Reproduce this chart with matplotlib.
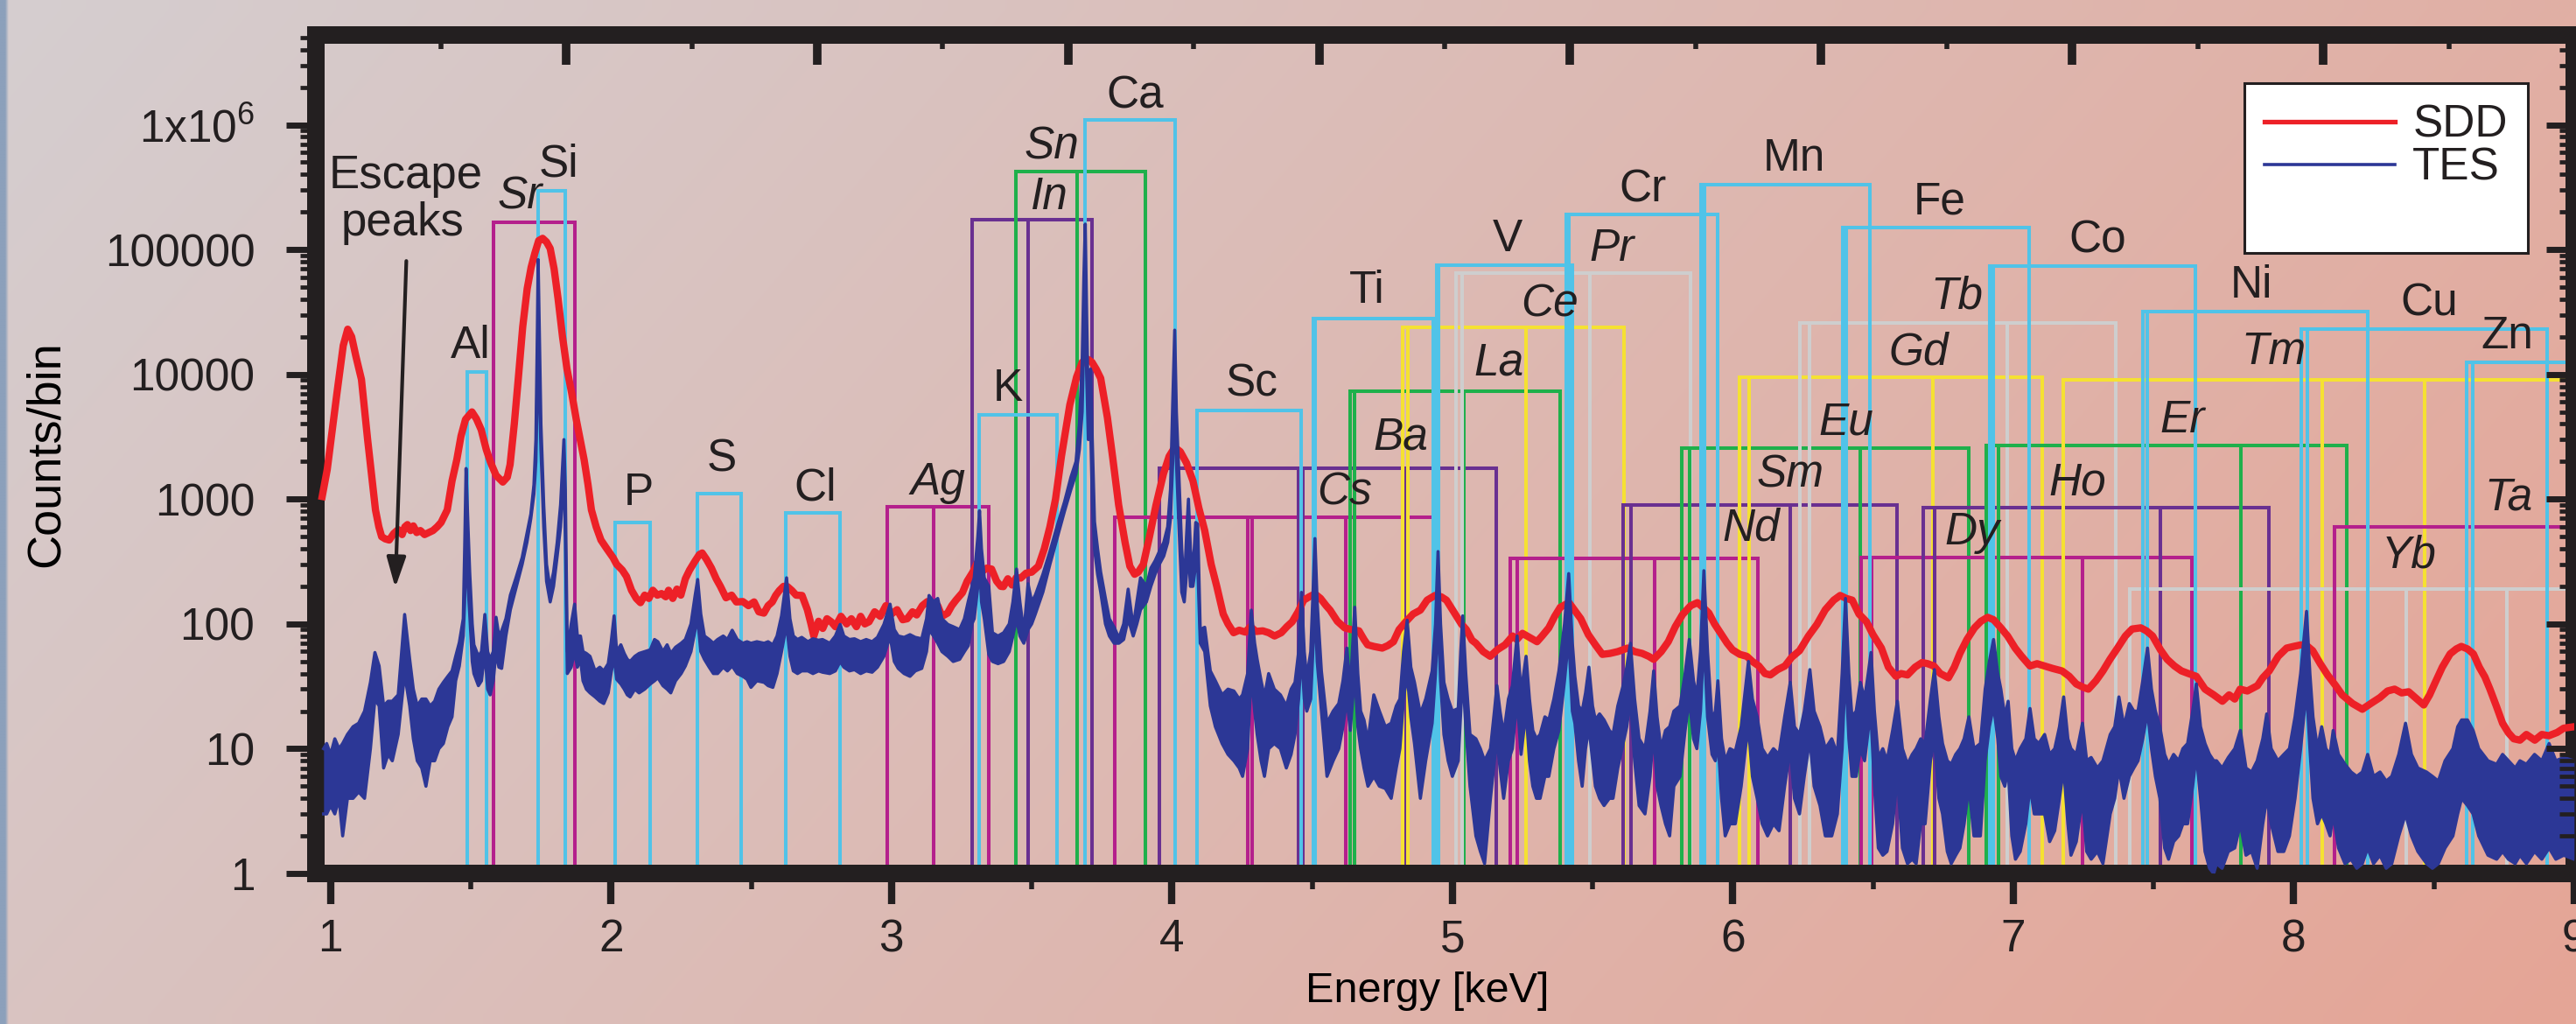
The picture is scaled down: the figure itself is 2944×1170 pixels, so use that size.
import matplotlib

matplotlib.use("Agg")

import matplotlib.pyplot as plt
import numpy as np
from matplotlib.lines import Line2D
from matplotlib.ticker import FixedFormatter, FixedLocator, LogLocator, NullFormatter

plt.rcParams["font.family"] = ["Liberation Sans", "DejaVu Sans"]
plt.rcParams["mathtext.fontset"] = "custom"
plt.rcParams["mathtext.rm"] = "Liberation Sans"
plt.rcParams["mathtext.it"] = "Liberation Sans:italic"

FRAME = "#231F20"
plt.rcParams["text.color"] = FRAME
plt.rcParams["xtick.color"] = FRAME
plt.rcParams["ytick.color"] = FRAME

# --- SDD spectrum (energy in keV, counts/bin) ---
sdd_energy = [
    0.970, 0.988, 1.022, 1.045, 1.061, 1.075, 1.090, 1.110, 1.132, 1.150,
    1.160, 1.172, 1.182, 1.195, 1.209, 1.225, 1.241, 1.255, 1.265, 1.274,
    1.285, 1.295, 1.307, 1.320, 1.335, 1.350, 1.365, 1.380, 1.394, 1.416,
    1.433, 1.450, 1.465, 1.481, 1.504, 1.520, 1.537, 1.555, 1.570, 1.590,
    1.614, 1.630, 1.640, 1.655, 1.669, 1.685, 1.701, 1.715, 1.728, 1.742,
    1.756, 1.770, 1.783, 1.797, 1.811, 1.827, 1.843, 1.860, 1.876, 1.890,
    1.904, 1.918, 1.930, 1.947, 1.964, 1.985, 2.007, 2.020, 2.040, 2.055,
    2.073, 2.090, 2.105, 2.120, 2.135, 2.149, 2.165, 2.180, 2.195, 2.205,
    2.220, 2.235, 2.249, 2.265, 2.280, 2.300, 2.315, 2.325, 2.340, 2.358,
    2.375, 2.390, 2.410, 2.430, 2.447, 2.470, 2.490, 2.510, 2.527, 2.545,
    2.560, 2.575, 2.587, 2.600, 2.615, 2.629, 2.645, 2.660, 2.681, 2.700,
    2.713, 2.723, 2.740, 2.755, 2.770, 2.785, 2.800, 2.820, 2.840, 2.857,
    2.875, 2.890, 2.905, 2.920, 2.940, 2.960, 2.980, 3.000, 3.020, 3.040,
    3.056, 3.075, 3.090, 3.110, 3.128, 3.145, 3.165, 3.180, 3.200, 3.215,
    3.230, 3.253, 3.270, 3.290, 3.305, 3.320, 3.340, 3.357, 3.375, 3.390,
    3.399, 3.415, 3.430, 3.445, 3.461, 3.480, 3.500, 3.524, 3.545, 3.565,
    3.585, 3.606, 3.636, 3.660, 3.680, 3.700, 3.715, 3.730, 3.746, 3.770,
    3.789, 3.810, 3.833, 3.850, 3.867, 3.880, 3.898, 3.920, 3.943, 3.970,
    3.990, 4.010, 4.030, 4.052, 4.075, 4.096, 4.117, 4.140, 4.160, 4.183,
    4.200, 4.220, 4.240, 4.262, 4.280, 4.300, 4.324, 4.345, 4.366, 4.390,
    4.410, 4.429, 4.450, 4.470, 4.490, 4.510, 4.530, 4.550, 4.564, 4.590,
    4.616, 4.640, 4.667, 4.685, 4.698, 4.720, 4.750, 4.770, 4.790, 4.810,
    4.834, 4.860, 4.886, 4.910, 4.938, 4.960, 4.979, 5.005, 5.032, 5.050,
    5.070, 5.084, 5.110, 5.135, 5.160, 5.188, 5.215, 5.230, 5.250, 5.275,
    5.302, 5.320, 5.344, 5.365, 5.385, 5.416, 5.440, 5.458, 5.485, 5.510,
    5.535, 5.562, 5.590, 5.625, 5.650, 5.677, 5.700, 5.718, 5.745, 5.770,
    5.795, 5.821, 5.850, 5.874, 5.895, 5.915, 5.935, 5.957, 5.980, 5.999,
    6.025, 6.050, 6.070, 6.093, 6.115, 6.134, 6.160, 6.186, 6.210, 6.238,
    6.270, 6.300, 6.330, 6.360, 6.383, 6.405, 6.426, 6.450, 6.477, 6.500,
    6.530, 6.555, 6.582, 6.600, 6.623, 6.650, 6.675, 6.695, 6.717, 6.740,
    6.769, 6.790, 6.810, 6.835, 6.862, 6.885, 6.909, 6.930, 6.956, 6.980,
    7.007, 7.030, 7.060, 7.085, 7.112, 7.140, 7.174, 7.200, 7.225, 7.250,
    7.268, 7.295, 7.320, 7.345, 7.372, 7.400, 7.424, 7.455, 7.475, 7.497,
    7.525, 7.549, 7.575, 7.600, 7.625, 7.653, 7.684, 7.715, 7.746, 7.770,
    7.790, 7.809, 7.835, 7.871, 7.890, 7.913, 7.945, 7.975, 8.000, 8.027,
    8.050, 8.068, 8.095, 8.121, 8.150, 8.173, 8.210, 8.245, 8.275, 8.308,
    8.335, 8.360, 8.385, 8.410, 8.440, 8.464, 8.485, 8.504, 8.530, 8.558,
    8.580, 8.598, 8.620, 8.641, 8.662, 8.682, 8.700, 8.723, 8.745, 8.766,
    8.785, 8.807, 8.830, 8.860, 8.885, 8.910, 8.940, 8.963, 9.000,
]
sdd_counts = [
    1050, 1730, 6900, 17000, 23000, 20000, 14000, 9100, 3000, 1300,
    820, 600, 500, 480, 470, 530, 570, 520, 600, 625,
    560, 610, 540, 560, 520, 540, 560, 600, 650, 820,
    1400, 2070, 3200, 4350, 5000, 4400, 3600, 2500, 1980, 1550,
    1370, 1500, 1890, 4000, 9100, 24000, 48600, 72000, 93000, 118000,
    123000, 115000, 102000, 70000, 40500, 20000, 11000, 7000, 4350, 3000,
    2070, 1300, 820, 600, 470, 400, 340, 300, 270, 240,
    186, 160, 148, 170, 160, 186, 170, 175, 165, 186,
    160, 190, 170, 230, 270, 320, 360, 370, 330, 280,
    230, 200, 162, 170, 150, 151, 140, 150, 125, 122,
    140, 150, 169, 185, 200, 199, 185, 170, 169, 130,
    100, 80, 105, 92, 110, 104, 95, 115, 100, 110,
    95, 115, 100, 104, 125, 115, 140, 120, 130, 108,
    110, 125, 118, 140, 151, 130, 140, 115, 122, 140,
    155, 178, 220, 260, 307, 260, 280, 275, 220, 200,
    199, 230, 205, 235, 233, 255, 260, 290, 400, 600,
    1000, 2200, 5700, 9500, 12500, 13200, 12500, 11000, 9300, 4500,
    2140, 900, 450, 290, 250, 260, 300, 500, 890, 1600,
    2200, 2600, 2400, 1950, 1400, 850, 560, 300, 200, 120,
    100, 85, 89, 86, 95, 87, 88, 85, 80, 85,
    95, 104, 125, 155, 165, 174, 160, 140, 129, 105,
    93, 90, 88, 75, 68, 66, 64, 67, 72, 90,
    104, 120, 129, 155, 169, 165, 155, 125, 100, 90,
    74, 70, 60, 55, 62, 68, 80, 75, 84, 78,
    72, 80, 93, 115, 136, 148, 125, 110, 82, 68,
    57, 58, 60, 64, 60, 58, 55, 52, 60, 72,
    95, 119, 140, 148, 135, 122, 100, 84, 70, 62,
    57, 55, 50, 46, 40, 39, 43, 46, 54, 61,
    80, 99, 130, 155, 169, 160, 155, 120, 104, 82,
    64, 45, 38, 40, 39, 45, 49, 48, 46, 40,
    37, 45, 58, 75, 93, 105, 113, 108, 93, 80,
    64, 55, 46, 48, 46, 44, 42, 38, 33, 31,
    30, 35, 42, 52, 64, 80, 91, 93, 88, 80,
    62, 52, 46, 42, 40, 38, 30, 27, 24, 27,
    25, 30, 29, 32, 37, 42, 55, 64, 66, 68,
    66, 61, 48, 39, 32, 27, 23, 20.7, 23, 25.7,
    29, 30, 28, 28.6, 25, 22.4, 27, 33.6, 45, 57.5,
    63, 66, 63, 57.5, 45, 37.6, 30, 21.9, 16, 13.4,
    12, 11.7, 13, 11.7, 13, 12.7, 13.5, 14.6, 15,
]

# --- TES spectrum: energy, upper and lower edge of the noisy trace ---
tes_energy = [
    0.975, 0.986, 1.000, 1.015, 1.030, 1.043, 1.060, 1.080, 1.100, 1.121,
    1.142, 1.158, 1.173, 1.189, 1.205, 1.220, 1.241, 1.264, 1.282, 1.295,
    1.309, 1.325, 1.340, 1.355, 1.371, 1.386, 1.402, 1.418, 1.433, 1.446,
    1.459, 1.473, 1.478, 1.483, 1.490, 1.496, 1.505, 1.511, 1.527, 1.538,
    1.550, 1.560, 1.569, 1.580, 1.590, 1.600, 1.610, 1.625, 1.641, 1.660,
    1.683, 1.700, 1.714, 1.725, 1.732, 1.737, 1.740, 1.744, 1.750, 1.760,
    1.770, 1.783, 1.795, 1.808, 1.820, 1.828, 1.832, 1.837, 1.844, 1.858,
    1.870, 1.880, 1.891, 1.900, 1.912, 1.925, 1.943, 1.960, 1.974, 1.990,
    2.000, 2.011, 2.020, 2.035, 2.047, 2.058, 2.068, 2.085, 2.100, 2.120,
    2.140, 2.155, 2.167, 2.185, 2.200, 2.213, 2.230, 2.250, 2.265, 2.285,
    2.300, 2.309, 2.320, 2.333, 2.350, 2.365, 2.380, 2.400, 2.415, 2.432,
    2.450, 2.470, 2.485, 2.499, 2.520, 2.546, 2.560, 2.577, 2.592, 2.608,
    2.626, 2.638, 2.650, 2.665, 2.680, 2.702, 2.720, 2.740, 2.754, 2.780,
    2.800, 2.817, 2.830, 2.850, 2.868, 2.890, 2.910, 2.931, 2.950, 2.973,
    2.995, 3.010, 3.024, 3.045, 3.066, 3.085, 3.108, 3.125, 3.134, 3.150,
    3.165, 3.180, 3.201, 3.220, 3.243, 3.260, 3.274, 3.287, 3.295, 3.308,
    3.314, 3.321, 3.331, 3.347, 3.360, 3.380, 3.400, 3.420, 3.433, 3.446,
    3.458, 3.472, 3.487, 3.500, 3.513, 3.540, 3.565, 3.590, 3.617, 3.640,
    3.658, 3.670, 3.680, 3.686, 3.691, 3.696, 3.702, 3.710, 3.716, 3.724,
    3.735, 3.746, 3.763, 3.777, 3.794, 3.811, 3.828, 3.844, 3.862, 3.875,
    3.888, 3.909, 3.925, 3.940, 3.955, 3.971, 3.985, 3.995, 4.003, 4.010,
    4.016, 4.024, 4.035, 4.044, 4.052, 4.059, 4.066, 4.075, 4.085, 4.092,
    4.101, 4.117, 4.137, 4.155, 4.179, 4.200, 4.221, 4.240, 4.252, 4.270,
    4.283, 4.295, 4.304, 4.318, 4.330, 4.345, 4.365, 4.387, 4.408, 4.425,
    4.439, 4.452, 4.462, 4.472, 4.481, 4.495, 4.504, 4.510, 4.518, 4.533,
    4.553, 4.575, 4.595, 4.610, 4.624, 4.636, 4.652, 4.663, 4.673, 4.685,
    4.699, 4.720, 4.740, 4.761, 4.782, 4.800, 4.813, 4.826, 4.839, 4.852,
    4.865, 4.886, 4.905, 4.928, 4.940, 4.949, 4.958, 4.970, 4.985, 5.000,
    5.021, 5.030, 5.037, 5.048, 5.063, 5.084, 5.100, 5.115, 5.136, 5.150,
    5.159, 5.170, 5.183, 5.200, 5.214, 5.231, 5.245, 5.263, 5.275, 5.287,
    5.300, 5.313, 5.330, 5.344, 5.362, 5.380, 5.400, 5.415, 5.428, 5.437,
    5.450, 5.463, 5.475, 5.487, 5.500, 5.510, 5.525, 5.541, 5.560, 5.573,
    5.590, 5.609, 5.622, 5.635, 5.650, 5.666, 5.687, 5.705, 5.718, 5.730,
    5.744, 5.760, 5.775, 5.790, 5.812, 5.830, 5.845, 5.860, 5.872, 5.885,
    5.897, 5.910, 5.926, 5.938, 5.947, 5.960, 5.973, 5.990, 6.009, 6.030,
    6.045, 6.056, 6.070, 6.087, 6.105, 6.124, 6.145, 6.165, 6.185, 6.205,
    6.220, 6.238, 6.255, 6.275, 6.290, 6.311, 6.330, 6.353, 6.373, 6.390,
    6.402, 6.414, 6.425, 6.440, 6.455, 6.470, 6.483, 6.493, 6.505, 6.519,
    6.535, 6.550, 6.570, 6.587, 6.605, 6.623, 6.640, 6.654, 6.670, 6.686,
    6.705, 6.719, 6.735, 6.748, 6.765, 6.779, 6.795, 6.810, 6.825, 6.842,
    6.860, 6.883, 6.900, 6.915, 6.930, 6.945, 6.956, 6.970, 6.982, 6.995,
    7.008, 7.025, 7.045, 7.060, 7.075, 7.091, 7.112, 7.130, 7.148, 7.165,
    7.180, 7.195, 7.206, 7.225, 7.247, 7.262, 7.278, 7.300, 7.320, 7.346,
    7.362, 7.377, 7.395, 7.414, 7.430, 7.445, 7.462, 7.479, 7.493, 7.507,
    7.523, 7.540, 7.554, 7.572, 7.590, 7.605, 7.622, 7.640, 7.653, 7.668,
    7.684, 7.700, 7.715, 7.725, 7.745, 7.767, 7.790, 7.810, 7.830, 7.850,
    7.870, 7.890, 7.904, 7.920, 7.944, 7.965, 7.985, 8.005, 8.025, 8.046,
    8.058, 8.069, 8.085, 8.100, 8.115, 8.130, 8.141, 8.160, 8.183, 8.205,
    8.225, 8.245, 8.264, 8.285, 8.308, 8.330, 8.350, 8.375, 8.399, 8.420,
    8.443, 8.474, 8.495, 8.516, 8.540, 8.568, 8.585, 8.599, 8.620, 8.640,
    8.660, 8.693, 8.724, 8.745, 8.766, 8.790, 8.807, 8.830, 8.859, 8.885,
    8.911, 8.935, 8.963, 9.000,
]
tes_high = [
    10, 11, 9, 12, 10, 11, 13, 15, 16, 20,
    34, 59, 46, 22, 24, 24, 27, 119, 52, 30,
    22, 25, 25, 22, 24, 30, 34, 38, 42, 55,
    71, 110, 400, 1760, 600, 260, 100, 68, 55, 60,
    119, 60, 52, 60, 113, 80, 88, 110, 170, 230,
    340, 530, 760, 1300, 3000, 20000, 83000, 25000, 4000, 900,
    300, 190, 260, 450, 900, 2000, 3000, 1200, 60, 100,
    144, 80, 80, 60, 58, 55, 42, 45, 42, 48,
    70, 116, 60, 68, 58, 52, 50, 55, 58, 60,
    62, 75, 72, 60, 68, 58, 65, 70, 75, 100,
    170, 227, 120, 80, 75, 70, 75, 80, 75, 89,
    75, 70, 72, 70, 72, 70, 72, 68, 80, 116,
    234, 110, 80, 75, 78, 72, 76, 74, 75, 70,
    80, 99, 80, 75, 76, 72, 75, 72, 78, 99,
    144, 90, 80, 78, 82, 78, 76, 110, 169, 150,
    160, 110, 99, 95, 90, 110, 152, 200, 234, 500,
    807, 400, 234, 200, 85, 80, 85, 100, 150, 275,
    150, 85, 210, 150, 170, 250, 380, 600, 950, 1500,
    2000, 4000, 12600, 60000, 160000, 30000, 5200, 11000, 3000, 660,
    400, 260, 160, 110, 94, 77, 100, 190, 94, 150,
    234, 200, 280, 320, 380, 450, 600, 1200, 6000, 22600,
    5000, 1760, 400, 190, 500, 1000, 400, 260, 650, 630,
    90, 94, 42, 35, 27, 30, 29, 25, 27, 40,
    129, 70, 52, 35, 26, 40, 30, 27, 22, 30,
    34, 60, 179, 60, 37, 60, 200, 483, 150, 42,
    16, 20, 23, 35, 64, 30, 136, 40, 20, 17,
    11.5, 27, 20, 15, 16, 22, 25, 60, 107, 45,
    34, 19, 25, 42, 100, 380, 100, 34, 25, 20,
    21, 60, 116, 40, 13, 12, 10, 8, 10, 20,
    32, 20, 13, 25, 32, 80, 28, 55, 25, 14,
    12, 13, 18, 17, 25, 42, 100, 253, 70, 38,
    22, 20, 28, 45, 22, 17, 19, 17, 14, 13,
    22, 32, 45, 70, 25, 12, 10, 20, 42, 18,
    10, 14, 15, 20, 22, 40, 75, 35, 26, 60,
    267, 60, 17, 20, 35, 12, 8, 10, 9.5, 15,
    30, 50, 25, 18, 10, 8.5, 10, 9, 18, 34,
    15, 13, 20, 43, 20, 15, 10, 12, 9, 40,
    160, 40, 18, 20, 34, 25, 40, 59, 20, 8.5,
    10, 8, 14, 24, 10, 7.5, 9, 10, 12, 11,
    25, 43, 18, 11, 8, 7.5, 9, 10, 12, 18,
    10, 11, 30, 50, 75, 40, 30, 18, 24, 10,
    8, 10, 12, 21, 12, 11, 13, 9, 10, 15,
    26, 12, 10, 9, 16, 8, 8.5, 7, 8, 13,
    15, 26, 15, 23, 20, 20, 35, 64, 30, 20,
    15, 9, 7.5, 9, 8, 10, 11, 20, 33, 15,
    11, 9, 8, 8, 7, 8.5, 10, 14, 7, 6.5,
    8, 12, 19, 10, 8, 9, 10, 18, 40, 126,
    40, 18, 10, 15, 10, 9, 14, 9, 7.5, 6.5,
    6, 6.5, 9, 6, 6.5, 5.5, 6, 9, 16, 9,
    7, 6.5, 6, 5.5, 8, 10, 15, 17, 17, 14,
    10, 8, 7.5, 9, 8, 7, 8, 7.5, 9, 8,
    11, 8, 8.5, 8,
]
tes_low = [
    3, 3, 3.5, 3, 4, 2, 4, 4, 4.5, 4,
    10, 25, 22, 7, 9, 8, 13, 40, 22, 12,
    8, 7, 5, 8, 8, 10, 11, 15, 18, 35,
    46, 80, 150, 600, 200, 120, 50, 40, 32, 35,
    60, 30, 27, 35, 60, 45, 44, 80, 130, 190,
    300, 450, 700, 1100, 2000, 8000, 30000, 8000, 2500, 600,
    220, 150, 200, 350, 600, 1200, 1800, 500, 40, 45,
    60, 45, 52, 35, 30, 28, 26, 24, 23, 28,
    40, 55, 36, 33, 30, 27, 26, 30, 28, 30,
    33, 35, 37, 32, 30, 28, 35, 40, 46, 60,
    90, 110, 60, 52, 45, 40, 40, 45, 42, 46,
    40, 38, 36, 31, 35, 34, 32, 31, 40, 60,
    100, 55, 42, 40, 42, 42, 40, 42, 41, 40,
    42, 50, 45, 42, 43, 40, 42, 41, 45, 55,
    80, 50, 44, 40, 38, 42, 44, 60, 90, 80,
    70, 60, 55, 50, 52, 60, 67, 100, 110, 200,
    300, 150, 110, 57, 50, 48, 50, 60, 80, 110,
    80, 70, 90, 100, 120, 180, 300, 480, 800, 1200,
    1600, 2500, 5000, 20000, 50000, 10000, 3000, 4000, 1000, 400,
    250, 180, 100, 80, 70, 70, 75, 110, 80, 100,
    130, 150, 200, 250, 300, 350, 450, 700, 2000, 7000,
    2000, 700, 180, 150, 250, 400, 200, 200, 300, 300,
    70, 60, 22, 15, 11, 9, 8, 7, 6, 10,
    40, 20, 13, 8, 6, 10, 11, 10, 7, 9,
    13, 25, 60, 25, 20, 25, 70, 150, 50, 20,
    6, 8, 10, 15, 25, 14, 40, 15, 10, 7,
    5, 6, 5, 4.8, 4, 7, 10, 25, 40, 18,
    11, 4, 8, 16, 40, 120, 35, 13, 8, 6,
    8, 20, 40, 15, 5, 2, 1.5, 1.2, 4, 8,
    12, 7, 4, 8, 10, 25, 9, 20, 8, 5,
    4, 4, 6, 6, 10, 14, 35, 80, 20, 16,
    8, 5, 10, 15, 8, 5, 4, 3.5, 4, 4,
    7, 11, 15, 25, 8, 3.5, 3, 6, 14, 5,
    3.5, 2.5, 2, 5, 6, 14, 25, 12, 10, 20,
    80, 18, 9, 8, 12, 4, 2, 2.5, 2.5, 5,
    10, 15, 6, 4, 2.5, 2, 2.5, 2.2, 5, 10,
    4, 3, 6, 12, 5, 3.5, 2, 2, 3, 10,
    45, 12, 6, 6, 10, 8, 14, 18, 5, 1.6,
    1.4, 1.5, 2.5, 6, 1.6, 1.2, 1.3, 1.2, 2.5, 2.5,
    8, 12, 4, 3, 1.5, 1.2, 1.4, 1.6, 2.5, 5,
    2, 2, 8, 15, 22, 12, 6, 5, 7, 2,
    1.3, 1.5, 2.5, 5, 3, 3, 3, 1.8, 2.2, 4,
    7, 2.5, 1.4, 1.8, 4, 1.5, 1.3, 1.5, 1.2, 3,
    4, 7, 4, 6, 7, 8, 12, 20, 10, 6,
    4, 1.6, 1.3, 1.8, 2, 2.5, 2.5, 5, 9, 4,
    1.5, 1.1, 1.0, 1.2, 1.1, 1.5, 1.6, 2.5, 1.4, 1.5,
    1.1, 2.5, 4, 2.5, 1.5, 1.5, 2, 4, 10, 30,
    10, 4, 2.5, 3, 2.5, 2, 3, 1.6, 1.2, 1.3,
    1.1, 1.2, 1.6, 1.2, 1.4, 1.1, 1.2, 2, 3, 2,
    1.5, 1.2, 1.1, 1.2, 1.6, 2, 3, 4, 3.5, 3,
    2, 1.4, 1.3, 1.5, 1.3, 1.2, 1.4, 1.2, 1.5, 1.3,
    1.6, 1.3, 1.4, 1.3,
]

# --- K-line elements: line energies (keV) and box heights (counts) ---
k_elements = ["Al", "Si", "P", "S", "Cl", "K", "Ca", "Sc", "Ti",
              "V", "Cr", "Mn", "Fe", "Co", "Ni", "Cu", "Zn"]
k_line_energies = [
    [1.486, 1.557], [1.740, 1.836], [2.014, 2.139], [2.308, 2.464],
    [2.622, 2.815], [3.314, 3.590], [3.691, 4.012], [4.090, 4.460],
    [4.505, 4.511, 4.932], [4.945, 4.952, 5.427], [5.405, 5.415, 5.947],
    [5.888, 5.899, 6.490], [6.391, 6.404, 7.058], [6.915, 6.930, 7.649],
    [7.461, 7.478, 8.265], [8.028, 8.048, 8.905], [8.616, 8.639, 9.572],
]
k_box_tops = [1.05e4, 2.96e5, 645, 1.1e3, 777, 4.7e3, 1.1e6, 5.1e3, 2.8e4,
              7.5e4, 1.9e5, 3.3e5, 1.5e5, 7.4e4, 3.2e4, 2.3e4, 1.25e4]

# --- L-line elements ---
l_elements = ["Sr", "Ag", "In", "Sn", "Cs", "Ba", "La", "Ce", "Pr", "Nd",
              "Sm", "Eu", "Gd", "Tb", "Dy", "Ho", "Er", "Tm", "Yb", "Ta"]
l_line_energies = [
    [1.582, 1.872], [2.984, 3.151, 3.348], [3.287, 3.487, 3.714],
    [3.444, 3.663, 3.905], [3.795, 4.272, 4.286, 4.620, 4.936],
    [3.954, 4.451, 4.466, 4.828, 5.157], [4.634, 4.651, 5.042, 5.384],
    [4.823, 4.840, 5.262, 5.613], [5.014, 5.034, 5.489, 5.850],
    [5.208, 5.230, 5.722, 6.090], [5.609, 5.636, 6.205, 6.587],
    [5.817, 5.846, 6.456, 6.842], [6.025, 6.057, 6.713, 7.103],
    [6.238, 6.273, 6.978, 7.367], [6.457, 6.495, 7.248, 7.636],
    [6.680, 6.720, 7.526, 7.911], [6.905, 6.949, 7.811, 8.189],
    [7.180, 8.101, 8.468, 9.426], [7.416, 8.402, 8.759, 9.780],
    [8.146, 9.343],
]
l_box_tops = [1.66e5, 875, 1.73e5, 4.2e5, 710, 1.76e3, 7.3e3, 2.37e4, 6.5e4,
              333, 900, 2.56e3, 9.5e3, 2.6e4, 340, 850, 2.7e3, 9.1e3, 190, 600]

# axis ticks
x_major = [1, 2, 3, 4, 5, 6, 7, 8, 9]
x_minor = [1.5, 2.5, 3.5, 4.5, 5.5, 6.5, 7.5, 8.5]
top_major = [1.840, 2.735, 3.630, 4.525, 5.420, 6.315, 7.210, 8.105]
top_minor = [1.393, 2.288, 3.183, 4.078, 4.973, 5.868, 6.763, 7.658, 8.553]
y_major = [1, 10, 100, 1000, 10000, 100000, 1000000]
y_labels = ["1", "10", "100", "1000", "10000", "100000", "1x10$^{6}$"]

# styles
CYAN = "#50C3E8"
MAGENTA = "#B4208C"
PURPLE = "#693091"
GREEN = "#1EB04B"
YELLOW = "#F5E132"
GRAY = "#CECECE"
RED = "#ED2027"
BLUE = "#2C3796"
l_colors = {
    "Sr": MAGENTA, "Ag": MAGENTA, "In": PURPLE, "Sn": GREEN, "Cs": MAGENTA,
    "Ba": PURPLE, "La": GREEN, "Ce": YELLOW, "Pr": GRAY, "Nd": MAGENTA,
    "Sm": PURPLE, "Eu": GREEN, "Gd": YELLOW, "Tb": GRAY, "Dy": MAGENTA,
    "Ho": PURPLE, "Er": GREEN, "Tm": YELLOW, "Yb": GRAY, "Ta": MAGENTA,
}
label_pos = {
    "Al": (1.500, 1.83e4), "Si": (1.812, 5.25e5), "Sr": (1.676, 2.9e5),
    "P": (2.098, 1.21e3), "S": (2.395, 2.28e3), "Cl": (2.728, 1.34e3),
    "Ag": (3.166, 1.48e3), "K": (3.414, 8.3e3), "In": (3.564, 2.86e5),
    "Sn": (3.570, 7.2e5), "Ca": (3.868, 1.86e6), "Sc": (4.285, 9.1e3),
    "Ti": (4.695, 5.07e4), "Cs": (4.616, 1.22e3), "Ba": (4.815, 3.41e3),
    "La": (5.166, 1.35e4), "V": (5.196, 1.32e5), "Ce": (5.348, 3.98e4),
    "Pr": (5.569, 1.1e5), "Cr": (5.678, 3.31e5), "Nd": (6.067, 631),
    "Sm": (6.205, 1.7e3), "Mn": (6.218, 5.8e5), "Eu": (6.405, 4.5e3),
    "Gd": (6.662, 1.64e4), "Fe": (6.736, 2.6e5), "Tb": (6.800, 4.57e4),
    "Dy": (6.852, 589), "Ho": (7.229, 1.47e3), "Co": (7.300, 1.29e5),
    "Er": (7.604, 4.65e3), "Ni": (7.850, 5.6e4), "Tm": (7.930, 1.64e4),
    "Yb": (8.410, 385), "Cu": (8.483, 4.03e4), "Zn": (8.760, 2.19e4),
    "Ta": (8.767, 1.12e3),
}
BOX_LW = 2.9
FS = 37


def draw_box(ax, lines, top, color):
    """Bracket from the axis floor up to `top`, one leg per emission line."""
    ax.plot([lines[0], lines[0], lines[-1], lines[-1]], [0.5, top, top, 0.5],
            color=color, lw=BOX_LW, solid_joinstyle="miter", zorder=1.5)
    if len(lines) > 2:
        ax.vlines(lines[1:-1], 0.5, top, colors=color, lw=BOX_LW, zorder=1.5)


fig = plt.figure(figsize=(29.44, 11.70), dpi=100)

# background wash
bg = fig.add_axes([0, 0, 1, 1], zorder=-5)
xf = np.linspace(0, 1, 736)[None, :]
yf = np.linspace(0, 1, 60)[:, None]
t = np.clip(0.75 * xf + 0.25 * yf, 0, 1)
c0 = np.array([213, 206, 208]) / 255
c1 = np.array([229, 165, 150]) / 255
img = c0 + (c1 - c0) * t[..., None]
img[:, :2] = np.array([140, 160, 187]) / 255
bg.imshow(img, extent=[0, 1, 0, 1], aspect="auto", interpolation="bilinear")
bg.set_axis_off()

ax = fig.add_axes([0.12279, 0.14701, 0.87646, 0.81838])
ax.set_facecolor("none")
ax.set_yscale("log")

for name, lines in zip(l_elements, l_line_energies):
    draw_box(ax, lines, l_box_tops[l_elements.index(name)], l_colors[name])
for lines, top in zip(k_line_energies, k_box_tops):
    draw_box(ax, lines, top, CYAN)

ax.plot(sdd_energy, sdd_counts, color=RED, lw=6, solid_joinstyle="round", zorder=3)
ax.fill_between(tes_energy, tes_low, tes_high, color=BLUE, lw=0, zorder=4)
ax.plot(tes_energy, tes_high, color=BLUE, lw=2.6, zorder=4)
ax.plot(tes_energy, tes_low, color=BLUE, lw=2.6, zorder=4)

for name, (ex, cy) in label_pos.items():
    style = "italic" if name in l_colors else "normal"
    ax.text(ex, cy, name, fontsize=FS, fontstyle=style, ha="center",
            va="center_baseline", zorder=5)

ax.text(1.268, 3.1e5, "Escape", fontsize=38, ha="center", va="baseline", zorder=5)
ax.text(1.257, 1.3e5, "peaks", fontsize=38, ha="center", va="baseline", zorder=5)
ax.annotate("", xy=(1.2306, 195), xytext=(1.270, 8.1e4),
            arrowprops=dict(arrowstyle="-|>,head_length=1.05,head_width=0.33",
                            lw=3, color=FRAME, shrinkA=0, shrinkB=0,
                            mutation_scale=20),
            zorder=6)

ax.set_xlim(0.949, 9.0)
ax.set_ylim(1, 5.2e6)

ax.xaxis.set_major_locator(FixedLocator(x_major))
ax.xaxis.set_major_formatter(FixedFormatter([str(v) for v in x_major]))
ax.xaxis.set_minor_locator(FixedLocator(x_minor))
ax.yaxis.set_major_locator(FixedLocator(y_major))
ax.yaxis.set_major_formatter(FixedFormatter(y_labels))
ax.yaxis.set_minor_locator(LogLocator(base=10, subs=np.arange(2, 10), numticks=100))
ax.yaxis.set_minor_formatter(NullFormatter())

ax.tick_params(axis="x", which="major", direction="out", length=25, width=6,
               pad=12, labelsize=FS, top=False)
ax.tick_params(axis="x", which="minor", direction="out", length=13, width=4, top=False)
ax.tick_params(axis="y", which="major", direction="out", length=24.5, width=5,
               pad=26, labelsize=FS, right=False)
ax.tick_params(axis="y", which="minor", direction="out", length=13, width=3.4,
               right=False)

for sp in ax.spines.values():
    sp.set_linewidth(14.4)
    sp.set_color(FRAME)
    sp.set_capstyle("projecting")

ax.set_xlabel("Energy [keV]", fontsize=35)
ax.xaxis.set_label_coords(0.492, -0.117)
ax.set_ylabel("Counts/bin", fontsize=39)
ax.yaxis.set_label_coords(-0.1099, 0.5008)

# inward ticks on the right and top edges
ax_r = ax.twinx()
ax_r.set_yscale("log")
ax_r.set_ylim(ax.get_ylim())
ax_r.yaxis.set_major_locator(FixedLocator(y_major))
ax_r.yaxis.set_minor_locator(LogLocator(base=10, subs=np.arange(2, 10), numticks=100))
ax_r.tick_params(axis="y", which="major", direction="in", length=23, width=5,
                 labelright=False)
ax_r.tick_params(axis="y", which="minor", direction="in", length=12, width=3.4,
                 labelright=False)

ax_t = ax.twiny()
ax_t.set_xlim(ax.get_xlim())
ax_t.xaxis.set_major_locator(FixedLocator(top_major))
ax_t.xaxis.set_minor_locator(FixedLocator(top_minor))
ax_t.tick_params(axis="x", which="major", direction="in", length=24.5, width=7,
                 labeltop=False)
ax_t.tick_params(axis="x", which="minor", direction="in", length=11.5, width=4,
                 labeltop=False)
for extra in (ax_r, ax_t):
    for sp in extra.spines.values():
        sp.set_visible(False)

handles = [Line2D([], [], color=RED, lw=3.8), Line2D([], [], color=BLUE, lw=2.6),
           Line2D([], [], color="none")]
leg = ax.legend(handles, ["SDD", "TES", " "], loc="upper right",
                bbox_to_anchor=(0.9795, 0.9426), borderaxespad=0, fontsize=FS,
                handlelength=2.9, handletextpad=0.4, labelspacing=0.0,
                borderpad=0.45, fancybox=False, framealpha=1, edgecolor=FRAME)
leg.get_frame().set_linewidth(2.2)
leg.set_zorder(7)

fig.savefig("out.png", dpi=100)
